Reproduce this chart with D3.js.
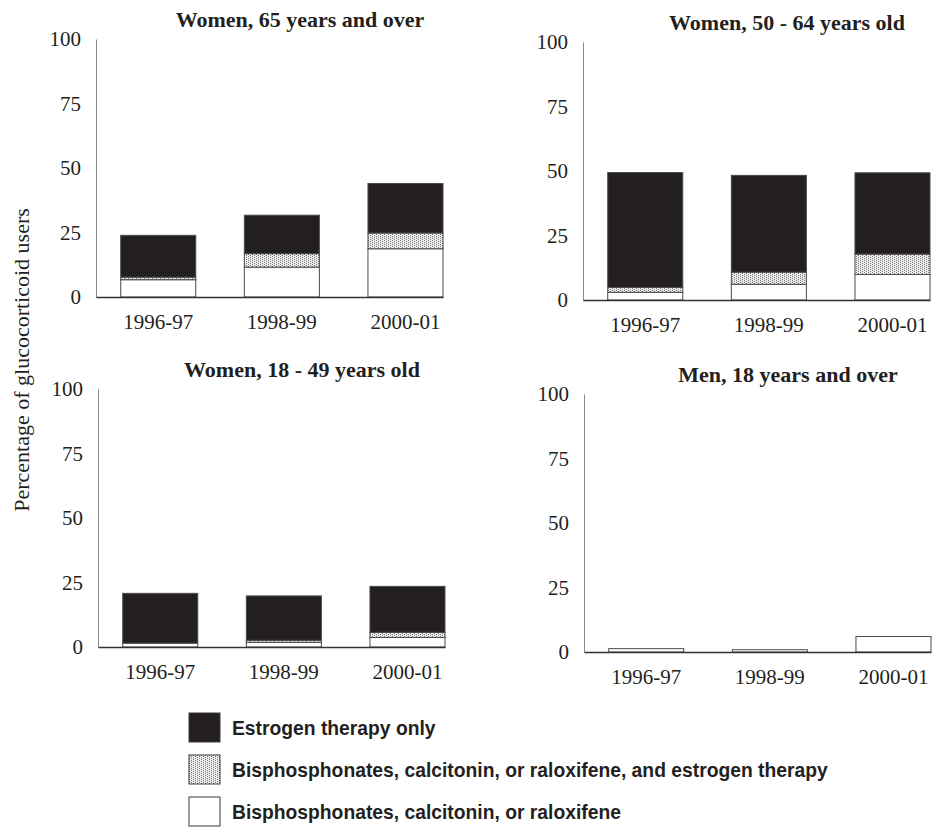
<!DOCTYPE html>
<html>
<head>
<meta charset="utf-8">
<script src="https://cdn.jsdelivr.net/npm/d3@7"></script>
<style>
  body { margin: 0; background: #fff; }
  svg { display: block; }
</style>
</head>
<body>
<svg id="chart" width="942" height="828"></svg>
<script>

    // Periods on the x axis
    var periods = ["1996-97", "1998-99", "2000-01"];
    var yTicks = [0, 25, 50, 75, 100];

    var seriesKeys = ["bisOnly", "both", "estrogen"];
    var seriesLabels = [
        "Estrogen therapy only",
        "Bisphosphonates, calcitonin, or raloxifene, and estrogen therapy",
        "Bisphosphonates, calcitonin, or raloxifene"
    ];

    // Women, 65 years and over
    var w65_bisOnly  = [6.7, 11.6, 18.7];
    var w65_both     = [1.0, 5.2, 6.1];
    var w65_estrogen = [16.2, 14.9, 19.2];

    // Women, 50 - 64 years old
    var w50_bisOnly  = [3.0, 6.1, 9.9];
    var w50_both     = [1.9, 4.7, 7.9];
    var w50_estrogen = [44.5, 37.5, 31.5];

    // Women, 18 - 49 years old
    var w18_bisOnly  = [1.5, 1.8, 3.7];
    var w18_both     = [0, 0.8, 2.0];
    var w18_estrogen = [19.3, 17.2, 17.8];

    // Men, 18 years and over
    var men_bisOnly  = [1.3, 0.9, 6.0];
    var men_both     = [0, 0, 0];
    var men_estrogen = [0, 0, 0];

    var panels = [
        {title: "Women, 65 years and over", bis: w65_bisOnly, both: w65_both, est: w65_estrogen, ax: 96,  y0: 297},
        {title: "Women, 50 - 64 years old", bis: w50_bisOnly, both: w50_both, est: w50_estrogen, ax: 583, y0: 300},
        {title: "Women, 18 - 49 years old", bis: w18_bisOnly, both: w18_both, est: w18_estrogen, ax: 98,  y0: 647},
        {title: "Men, 18 years and over",   bis: men_bisOnly, both: men_both, est: men_estrogen, ax: 584, y0: 652}
    ];

    var ink = "#231f20";
    var serif = "'Liberation Serif', 'Times New Roman', serif";
    var sans = "'Liberation Sans', Arial, sans-serif";
    var w = 347, h = 258;

    var svg = d3.select("#chart");

    // stipple pattern for the combined therapy
    var pat = svg.append("defs").append("pattern")
        .attr("id", "stipple")
        .attr("patternUnits", "userSpaceOnUse")
        .attr("width", 4)
        .attr("height", 2);
    pat.append("rect").attr("width", 4).attr("height", 2).attr("fill", "#ececec");
    pat.append("rect").attr("x", 0).attr("y", 0).attr("width", 1).attr("height", 1).attr("fill", "#777");
    pat.append("rect").attr("x", 2).attr("y", 1).attr("width", 1).attr("height", 1).attr("fill", "#777");

    var fills = {bisOnly: "#ffffff", both: "url(#stipple)", estrogen: ink};

    var stack = d3.stack().keys(seriesKeys);

    panels.forEach(function(p) {

        var rows = periods.map(function(d, i) {
            return {period: d, bisOnly: p.bis[i], both: p.both[i], estrogen: p.est[i]};
        });

        var xScale = d3.scaleBand()
            .domain(periods)
            .range([p.ax, p.ax + w])
            .paddingInner(0.393)
            .paddingOuter(0.1)
            .align(1);

        var yScale = d3.scaleLinear()
            .domain([0, 100])
            .range([p.y0, p.y0 - h]);

        var g = svg.append("g");

        // y axis
        var yAxis = d3.axisLeft(yScale)
            .tickValues(yTicks)
            .tickSize(0)
            .tickSizeOuter(0)
            .tickPadding(15);

        var ya = g.append("g")
            .attr("transform", "translate(" + p.ax + ",0)")
            .call(yAxis)
            .attr("font-family", serif)
            .attr("font-size", 21);
        ya.select(".domain").attr("stroke", "#8a8a8a").attr("stroke-width", 1);
        ya.selectAll("text")
            .style("font-family", serif)
            .style("font-size", "21px")
            .attr("fill", ink);

        // bars
        g.append("g")
            .selectAll("g")
            .data(stack(rows))
            .enter().append("g")
            .attr("fill", function(d) { return fills[d.key]; })
            .selectAll("rect")
            .data(function(d) { return d.filter(function(s) { return s[1] - s[0] > 0; }); })
            .enter().append("rect")
              .attr("x", function(d) { return xScale(d.data.period); })
              .attr("y", function(d) { return yScale(d[1]); })
              .attr("width", xScale.bandwidth())
              .attr("height", function(d) { return yScale(d[0]) - yScale(d[1]); })
              .attr("stroke", "#4a4a4a")
              .attr("stroke-width", 1);

        // x axis
        var xAxis = d3.axisBottom(xScale)
            .tickSize(0)
            .tickSizeOuter(0)
            .tickPadding(17);

        var xa = g.append("g")
            .attr("transform", "translate(0," + p.y0 + ")")
            .call(xAxis)
            .attr("font-family", serif)
            .attr("font-size", 21);
        xa.select(".domain").attr("stroke", "#333").attr("stroke-width", 1.5);
        xa.selectAll("text")
            .style("font-family", serif)
            .style("font-size", "21px")
            .attr("fill", ink);

        // panel title
        g.append("text")
            .attr("x", p.ax + 204)
            .attr("y", p.y0 - h - 12)
            .attr("text-anchor", "middle")
            .style("font-family", serif)
            .attr("font-weight", "bold")
            .style("font-size", "22px")
            .attr("fill", ink)
            .text(p.title);
    });

    // y axis title
    svg.append("text")
        .attr("transform", "translate(29,360) rotate(-90)")
        .attr("text-anchor", "middle")
        .style("font-family", serif)
        .style("font-size", "22px")
        .attr("fill", ink)
        .text("Percentage of glucocorticoid users");

    // legend
    var legendFills = [ink, "url(#stipple)", "#ffffff"];
    var legend = svg.append("g")
        .selectAll("g")
        .data(seriesLabels)
        .enter().append("g")
        .attr("transform", function(d, i) { return "translate(189," + (713 + i * 42) + ")"; });

    legend.append("rect")
        .attr("width", 31)
        .attr("height", 29)
        .attr("fill", function(d, i) { return legendFills[i]; })
        .attr("stroke", "#3a3a3a")
        .attr("stroke-width", 1);

    legend.append("text")
        .attr("x", 43)
        .attr("y", 22)
        .style("font-family", sans)
        .attr("font-weight", "bold")
        .style("font-size", "19.3px")
        .attr("fill", ink)
        .text(function(d) { return d; });

</script>
</body>
</html>
